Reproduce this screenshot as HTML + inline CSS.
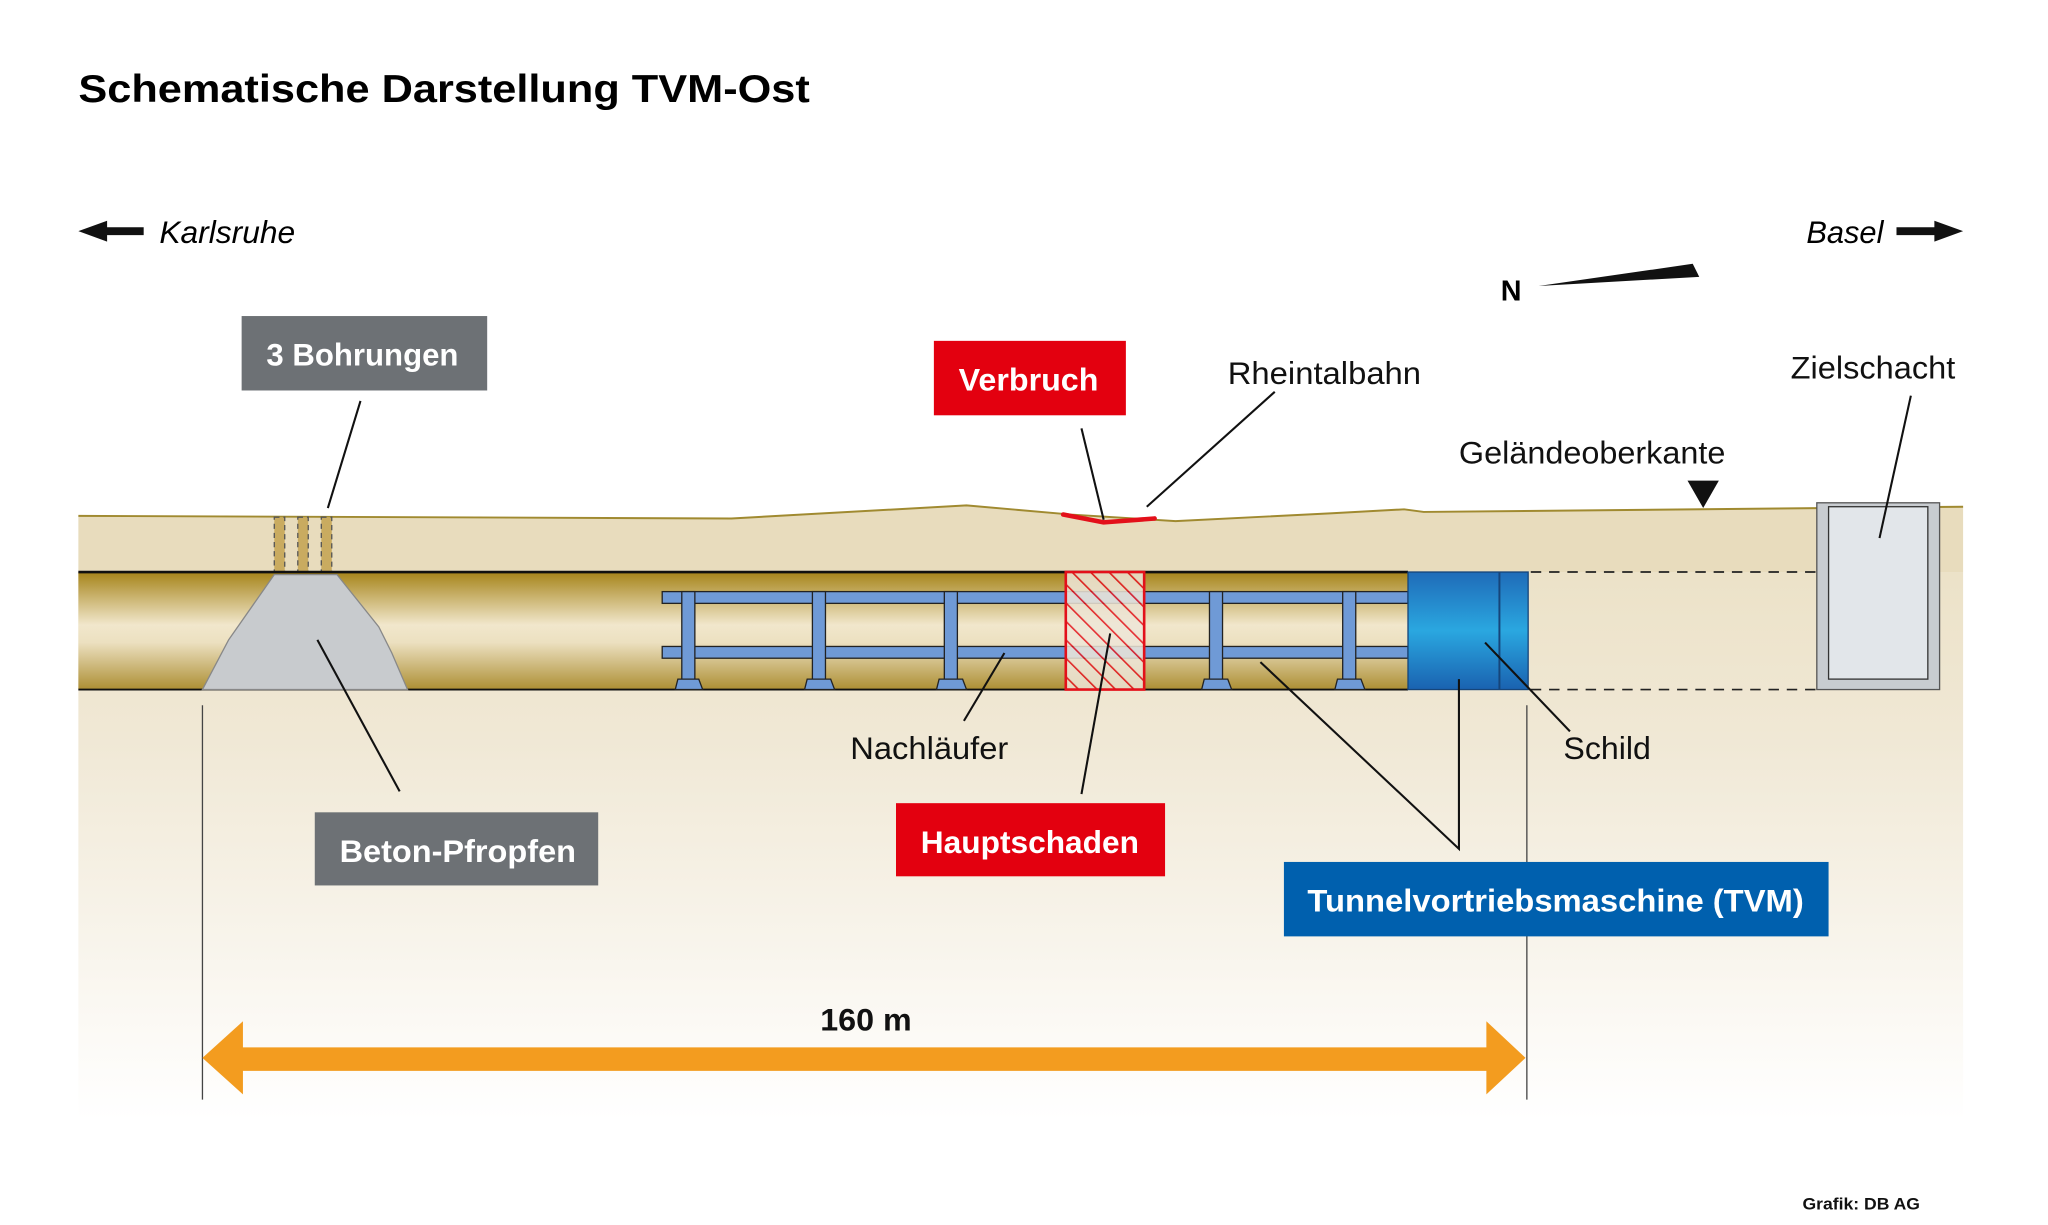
<!DOCTYPE html>
<html><head><meta charset="utf-8"><style>html,body{margin:0;padding:0;background:#fff}svg{display:block}text{font-family:"Liberation Sans",sans-serif}</style></head><body>
<svg width="2048" height="1225" viewBox="0 0 1568 938" preserveAspectRatio="none" xmlns="http://www.w3.org/2000/svg">
<defs>
<linearGradient id="gnd" x1="0" y1="0" x2="0" y2="1"><stop offset="0" stop-color="#ece2c8"/><stop offset="0.3" stop-color="#f0e8d5"/><stop offset="1" stop-color="#ffffff"/></linearGradient>
<linearGradient id="tun" x1="0" y1="0" x2="0" y2="1"><stop offset="0" stop-color="#a6841a"/><stop offset="0.45" stop-color="#f1e7cc"/><stop offset="0.6" stop-color="#ece0c0"/><stop offset="1" stop-color="#ad8f34"/></linearGradient>
<linearGradient id="shd" x1="0" y1="0" x2="0" y2="1"><stop offset="0" stop-color="#1f6bb8"/><stop offset="0.5" stop-color="#2aa7e0"/><stop offset="1" stop-color="#1a62b0"/></linearGradient>
<pattern id="hat" width="10" height="10" patternUnits="userSpaceOnUse" patternTransform="rotate(-45)"><rect width="10" height="10" fill="#eee6d8"/><line x1="0" y1="0" x2="0" y2="10" stroke="#e3101a" stroke-width="2.5"/></pattern>
</defs>
<rect x="60" y="438" width="1443" height="420" fill="url(#gnd)"/>
<polygon points="60,395 560,397 740,387 820,394 900,399 1020,393 1075,390 1090,392 1503,388 1503,438 60,438" fill="#e8dcbd"/>
<polyline points="60,395 560,397 740,387 820,394 900,399 1020,393 1075,390 1090,392 1503,388" fill="none" stroke="#a08a30" stroke-width="1.5"/>
<g fill="#c9ab60" stroke="#555" stroke-width="1" stroke-dasharray="4,3"><rect x="210" y="396" width="8" height="42"/><rect x="228" y="396" width="8" height="42"/><rect x="246" y="396" width="8" height="42"/></g>
<rect x="60" y="438" width="1018" height="90" fill="url(#tun)"/>
<line x1="60" y1="438" x2="1078" y2="438" stroke="#111" stroke-width="2"/>
<line x1="60" y1="528" x2="1078" y2="528" stroke="#111" stroke-width="1.5"/>
<polygon points="155,528 175,490 210,440 258,440 290,480 300,500 312,528" fill="#c8cbce" stroke="#888" stroke-width="1"/>
<g fill="#6f9ad6" stroke="#222" stroke-width="1">
<rect x="507" y="453" width="571" height="9"/><rect x="507" y="495" width="571" height="9"/>
<rect x="522" y="453" width="10" height="68"/><rect x="622" y="453" width="10" height="68"/><rect x="723" y="453" width="10" height="68"/><rect x="926" y="453" width="10" height="68"/><rect x="1028" y="453" width="10" height="68"/>
<polygon points="517,528 519,520 535,520 538,528"/><polygon points="616,528 618,520 636,520 639,528"/><polygon points="717,528 719,520 737,520 740,528"/><polygon points="920,528 922,520 940,520 943,528"/><polygon points="1022,528 1024,520 1042,520 1045,528"/>
</g>
<rect x="816" y="438" width="60" height="90" fill="url(#hat)" fill-opacity="0.85" stroke="#e3101a" stroke-width="2"/>
<rect x="1078" y="438" width="92" height="90" fill="url(#shd)" stroke="#16457a" stroke-width="1"/>
<line x1="1148" y1="438" x2="1148" y2="528" stroke="#16457a" stroke-width="1.5"/>
<g stroke="#222" stroke-width="1.3" stroke-dasharray="8,6"><line x1="1172" y1="438" x2="1390" y2="438"/><line x1="1172" y1="528" x2="1390" y2="528"/></g>
<rect x="1391" y="385" width="94" height="143" fill="#c8ccd0" stroke="#555" stroke-width="1"/>
<rect x="1400" y="388" width="76" height="132" fill="#e2e6ea" stroke="#333" stroke-width="1"/>
<path d="M814,394 L845,400 L884,397" fill="none" stroke="#e3101a" stroke-width="3.5" stroke-linecap="round" stroke-linejoin="round"/>
<g stroke="#111" stroke-width="1.6" fill="none">
<line x1="276" y1="307" x2="251" y2="389"/><line x1="828" y1="328" x2="845" y2="398"/><line x1="976" y1="300" x2="878" y2="388"/>
<line x1="1463" y1="303" x2="1439" y2="412"/><line x1="243" y1="490" x2="306" y2="606"/><line x1="769" y1="500" x2="738" y2="552"/>
<line x1="850" y1="485" x2="828" y2="608"/><line x1="1137" y1="492" x2="1202" y2="560"/><polyline points="965,507 1117,650 1117,520"/>
</g>
<g stroke="#444" stroke-width="1"><line x1="155" y1="540" x2="155" y2="842"/><line x1="1169" y1="540" x2="1169" y2="842"/></g>
<polygon points="155,810 186,782 186,802 1138,802 1138,782 1168,810 1138,838 1138,820 186,820 186,838" fill="#f39c1f"/>
<polygon points="1292,368 1316,368 1304,389" fill="#111"/>
<polygon points="1178,219 1296,202 1301,212" fill="#111"/>
<polygon points="60,177 82,169 82,174 110,174 110,180 82,180 82,185" fill="#111"/>
<polygon points="1503,177 1481,169 1481,174 1452,174 1452,180 1481,180 1481,185" fill="#111"/>
<rect x="185" y="242" width="188" height="57" fill="#6d7175"/>
<rect x="715" y="261" width="147" height="57" fill="#e3000f"/>
<rect x="241" y="622" width="217" height="56" fill="#6d7175"/>
<rect x="686" y="615" width="206" height="56" fill="#e3000f"/>
<rect x="983" y="660" width="417" height="57" fill="#0060ae"/>
<text x="60" y="78" font-size="30" font-weight="bold" textLength="560" lengthAdjust="spacingAndGlyphs">Schematische Darstellung TVM-Ost</text>
<text x="122" y="186" font-size="24" font-style="italic" textLength="104" lengthAdjust="spacingAndGlyphs">Karlsruhe</text>
<text x="1383" y="186" font-size="24" font-style="italic" textLength="59" lengthAdjust="spacingAndGlyphs">Basel</text>
<text x="1149" y="230" font-size="22" font-weight="bold">N</text>
<g fill="#fff" font-weight="bold" font-size="24">
<text x="204" y="280" textLength="147" lengthAdjust="spacingAndGlyphs">3 Bohrungen</text>
<text x="734" y="299" textLength="107" lengthAdjust="spacingAndGlyphs">Verbruch</text>
<text x="260" y="660" textLength="181" lengthAdjust="spacingAndGlyphs">Beton-Pfropfen</text>
<text x="705" y="653" textLength="167" lengthAdjust="spacingAndGlyphs">Hauptschaden</text>
<text x="1001" y="698" textLength="380" lengthAdjust="spacingAndGlyphs">Tunnelvortriebsmaschine (TVM)</text>
</g>
<g fill="#111" font-size="24">
<text x="940" y="294" textLength="148" lengthAdjust="spacingAndGlyphs">Rheintalbahn</text>
<text x="1371" y="290" textLength="126" lengthAdjust="spacingAndGlyphs">Zielschacht</text>
<text x="1117" y="355" textLength="204" lengthAdjust="spacingAndGlyphs">Geländeoberkante</text>
<text x="651" y="581" textLength="121" lengthAdjust="spacingAndGlyphs">Nachläufer</text>
<text x="1197" y="581" textLength="67" lengthAdjust="spacingAndGlyphs">Schild</text>
<text x="628" y="789" font-weight="bold" textLength="70" lengthAdjust="spacingAndGlyphs">160 m</text>
</g>
<text x="1380" y="926" font-size="13" font-weight="bold" fill="#111" textLength="90" lengthAdjust="spacingAndGlyphs">Grafik: DB AG</text>
</svg>
</body></html>
